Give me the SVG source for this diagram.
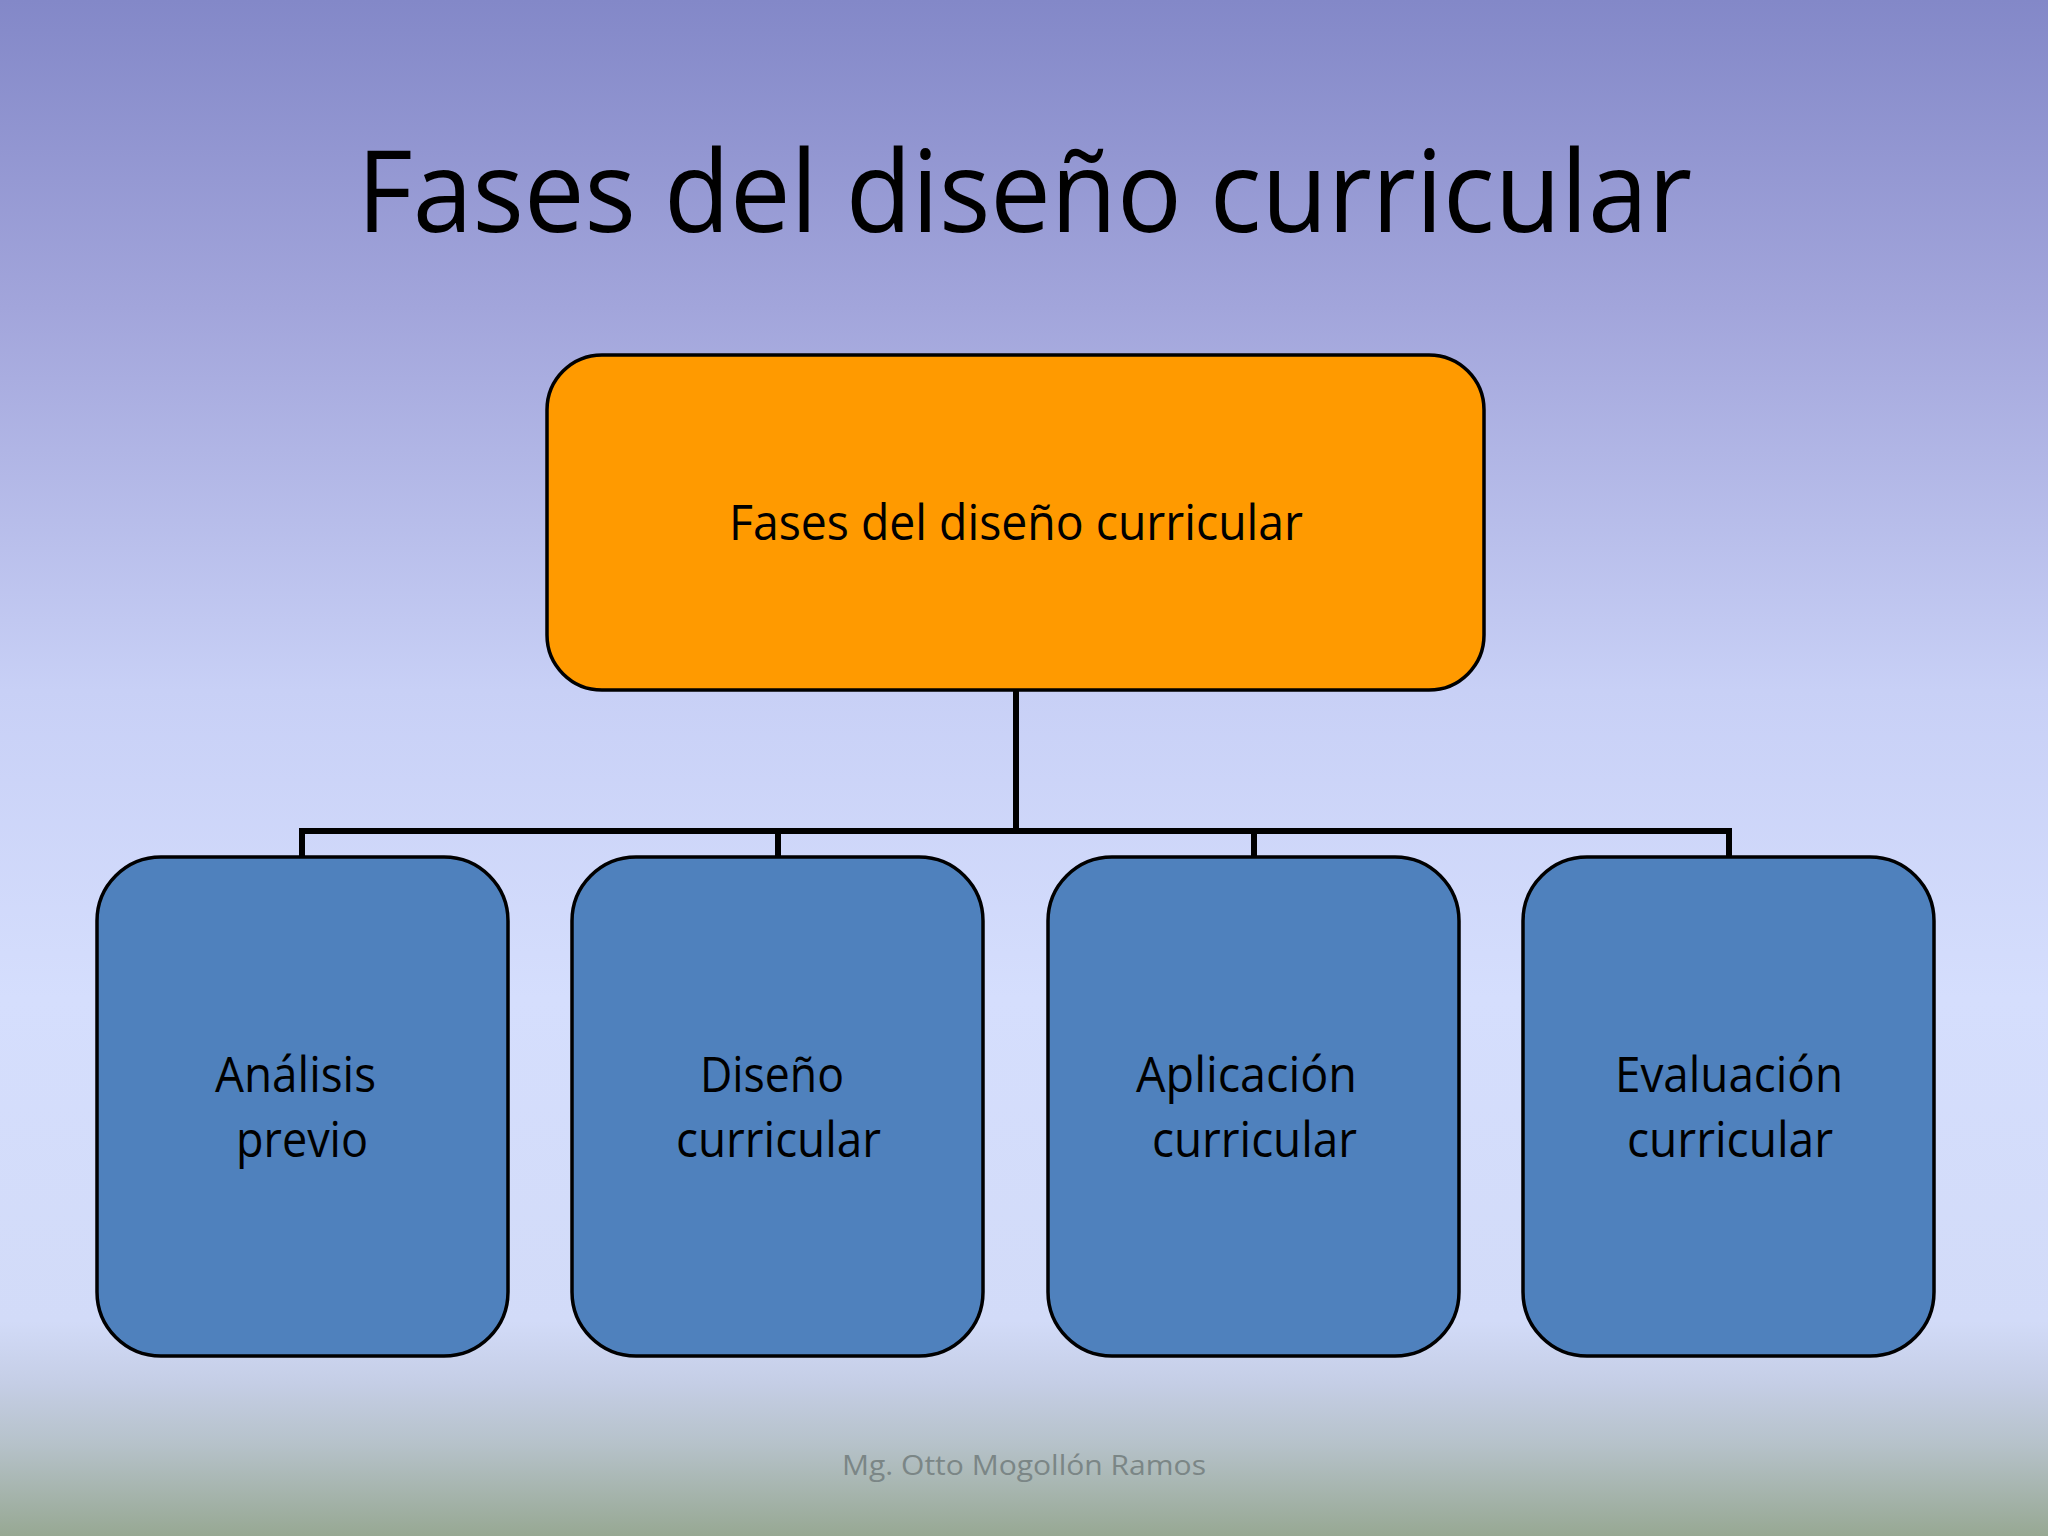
<svg xmlns="http://www.w3.org/2000/svg" width="2048" height="1536" viewBox="0 0 2048 1536">
  <defs>
    <linearGradient id="bg" x1="0" y1="0" x2="0" y2="1">
      <stop offset="0" stop-color="#8388c8"/>
      <stop offset="0.2" stop-color="#a2a5db"/>
      <stop offset="0.45" stop-color="#c8d0f6"/>
      <stop offset="0.65" stop-color="#d5defd"/>
      <stop offset="0.86" stop-color="#d2dbf8"/>
      <stop offset="0.9" stop-color="#c5cee6"/>
      <stop offset="0.94" stop-color="#b6c2ca"/>
      <stop offset="1" stop-color="#97a893"/>
    </linearGradient>
    <style>
      .t { font-family: "Open Sans", "Noto Sans", "Liberation Sans", sans-serif; fill: #000; }
      .top { fill: #ff9a00; stroke: #000; stroke-width: 3.5; }
      .sub { fill: #4f81bd; stroke: #000; stroke-width: 3.5; }
      .lbl { font-size: 49px; }
      .conn { fill: none; stroke: #000; stroke-width: 6; }
    </style>
  </defs>
  <rect x="0" y="0" width="2048" height="1536" fill="url(#bg)"/>

  <text id="title" class="t" x="357" y="232" font-size="114" textLength="1335" lengthAdjust="spacingAndGlyphs">Fases del diseño curricular</text>

  <g id="connectors">
    <path class="conn" d="M1016 690 V831"/>
    <path class="conn" d="M302 857 V831 H1729 V857"/>
    <path class="conn" d="M778 831 V857"/>
    <path class="conn" d="M1254 831 V857"/>
  </g>

  <g id="node-root">
    <rect class="top" x="547" y="355" width="937" height="335" rx="55" ry="55"/>
    <text class="t lbl" x="729" y="540" textLength="574" lengthAdjust="spacingAndGlyphs">Fases del diseño curricular</text>
  </g>

  <g id="node-analisis">
    <rect class="sub" x="97" y="857" width="411" height="499" rx="64" ry="64"/>
    <text class="t lbl" x="215" y="1092" textLength="161" lengthAdjust="spacingAndGlyphs">Análisis</text>
    <text class="t lbl" x="236" y="1157" textLength="132" lengthAdjust="spacingAndGlyphs">previo</text>
  </g>

  <g id="node-diseno">
    <rect class="sub" x="572" y="857" width="411" height="499" rx="64" ry="64"/>
    <text class="t lbl" x="700" y="1092" textLength="144" lengthAdjust="spacingAndGlyphs">Diseño</text>
    <text class="t lbl" x="676" y="1157" textLength="205" lengthAdjust="spacingAndGlyphs">curricular</text>
  </g>

  <g id="node-aplicacion">
    <rect class="sub" x="1048" y="857" width="411" height="499" rx="64" ry="64"/>
    <text class="t lbl" x="1136" y="1092" textLength="221" lengthAdjust="spacingAndGlyphs">Aplicación</text>
    <text class="t lbl" x="1152" y="1157" textLength="205" lengthAdjust="spacingAndGlyphs">curricular</text>
  </g>

  <g id="node-evaluacion">
    <rect class="sub" x="1523" y="857" width="411" height="499" rx="64" ry="64"/>
    <text class="t lbl" x="1615" y="1092" textLength="228" lengthAdjust="spacingAndGlyphs">Evaluación</text>
    <text class="t lbl" x="1627" y="1157" textLength="206" lengthAdjust="spacingAndGlyphs">curricular</text>
  </g>

  <text id="footer" x="842" y="1475" font-family="Open Sans, Noto Sans, Liberation Sans, sans-serif" font-size="28" fill="#7b8686" textLength="364" lengthAdjust="spacingAndGlyphs">Mg. Otto Mogollón Ramos</text>
</svg>
